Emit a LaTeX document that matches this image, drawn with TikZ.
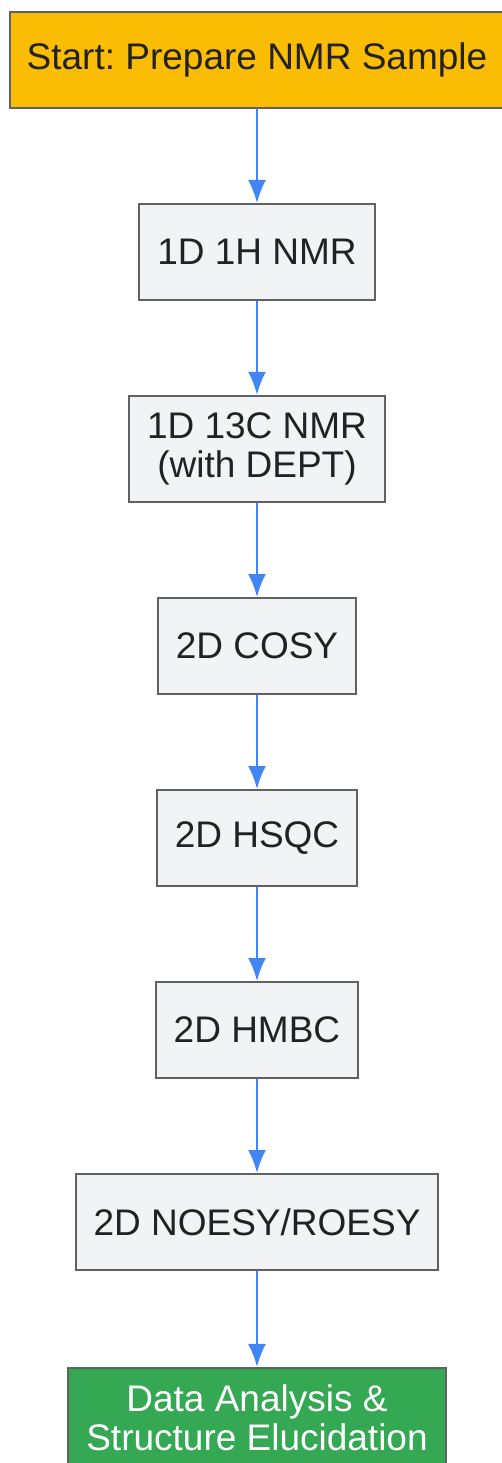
\documentclass[tikz,border=0pt]{standalone}
\usepackage{fontspec}
\setmainfont{Liberation Sans}
\usetikzlibrary{arrows.meta}
\frenchspacing
\definecolor{startyellow}{HTML}{FBBC04}
\definecolor{endgreen}{HTML}{34A853}
\definecolor{boxgray}{HTML}{F1F3F4}
\definecolor{edgegray}{HTML}{616161}
\definecolor{flowblue}{HTML}{4285F4}
\definecolor{textdark}{HTML}{222222}
\tikzset{
  >={Latex[width=18pt,length=23pt]},
}
\tikzstyle{every node}=[font=\fontsize{37}{39}\selectfont]
\tikzstyle{process}=[draw=edgegray,line width=2pt,fill=boxgray,text=textdark,
  align=center,inner xsep=18pt,inner ysep=17pt,minimum height=96pt]
\tikzstyle{startbox}=[process,fill=startyellow,inner xsep=17pt]
\tikzstyle{endbox}=[process,fill=endgreen,text=white]
\tikzstyle{flow}=[->,flowblue,line width=2pt]

\begin{document}
\begin{tikzpicture}[x=1pt,y=-1pt]
    \useasboundingbox (0,0) rectangle (501,1463);
    \node[startbox] (prep) at (257,60) {Start: Prepare NMR Sample};
    \node[process] (proton) at (257,252) {1D 1H NMR};
    \node[process] (carbon) at (257,449) {1D 13C NMR\\(with DEPT)};
    \node[process] (cosy) at (257,646) {2D COSY};
    \node[process] (hsqc) at (257,838) {2D HSQC};
    \node[process] (hmbc) at (257,1030) {2D HMBC};
    \node[process] (noesy) at (257,1222) {2D NOESY/ROESY};
    \node[endbox] (analysis) at (257,1418) {Data Analysis \&\\Structure Elucidation};

    \draw[flow] (prep) -- (proton);
    \draw[flow] (proton) -- (carbon);
    \draw[flow] (carbon) -- (cosy);
    \draw[flow] (cosy) -- (hsqc);
    \draw[flow] (hsqc) -- (hmbc);
    \draw[flow] (hmbc) -- (noesy);
    \draw[flow] (noesy) -- (analysis);
  \end{tikzpicture}
\end{document}
